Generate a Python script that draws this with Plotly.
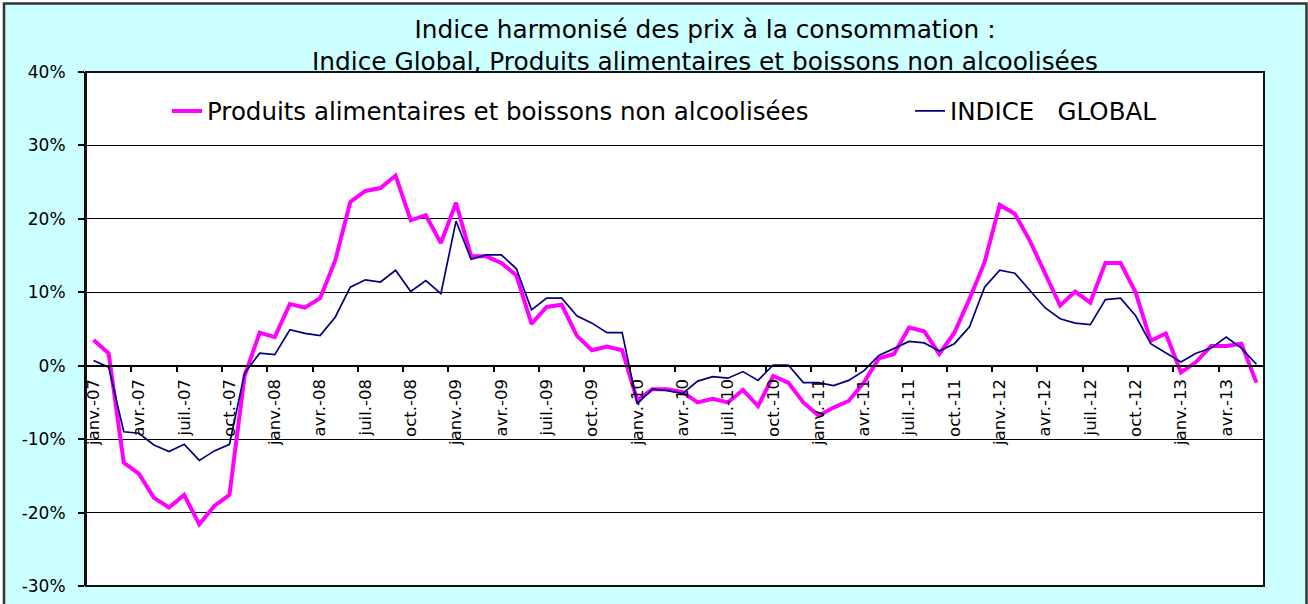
import plotly.graph_objects as go

# ---- data -------------------------------------------------------------
month_names = ['janv.', 'févr.', 'mars', 'avr.', 'mai', 'juin',
               'juil.', 'août', 'sept.', 'oct.', 'nov.', 'déc.']
years = ['07', '08', '09', '10', '11', '12', '13']
categories = [f"{m}-{y}" for y in years for m in month_names][:78]  # janv.-07 .. juin-13

food = [3.5, 1.7, -13.2, -14.7, -18.0, -19.3, -17.6, -21.6, -19.1, -17.6,
        -1.4, 4.5, 3.9, 8.4, 7.9, 9.2, 14.3, 22.3, 23.8, 24.2,
        25.9, 19.8, 20.5, 16.7, 22.2, 14.9, 14.9, 14.0, 12.3, 5.7,
        8.0, 8.3, 4.1, 2.1, 2.6, 2.1, -4.7, -3.2, -3.2, -3.6,
        -5.0, -4.5, -5.0, -3.3, -5.5, -1.4, -2.3, -5.0, -6.8, -5.7,
        -4.8, -2.3, 1.0, 1.6, 5.2, 4.7, 1.6, 4.5, 9.1, 14.1,
        21.9, 20.7, 17.0, 12.5, 8.2, 10.1, 8.6, 14.0, 14.0, 10.0,
        3.4, 4.4, -0.9, 0.5, 2.7, 2.7, 3.0, -2.3]

global_index = [0.7, -0.2, -9.0, -9.2, -10.8, -11.7, -10.7, -12.9, -11.6, -10.7,
                -1.0, 1.7, 1.5, 4.9, 4.4, 4.1, 6.6, 10.7, 11.7, 11.4,
                13.0, 10.1, 11.6, 9.8, 19.7, 14.5, 15.1, 15.1, 13.2, 7.6,
                9.2, 9.2, 6.8, 5.8, 4.5, 4.5, -5.2, -3.2, -3.4, -3.8,
                -2.1, -1.5, -1.7, -0.8, -2.0, 0.1, 0.1, -2.3, -2.3, -2.7,
                -2.0, -0.7, 1.4, 2.4, 3.3, 3.1, 2.0, 3.0, 5.3, 10.7,
                13.0, 12.6, 10.2, 7.9, 6.4, 5.8, 5.6, 9.0, 9.2, 6.8,
                3.0, 1.8, 0.5, 1.7, 2.4, 3.9, 2.4, 0.2]

y_ticks = [-30, -20, -10, 0, 10, 20, 30, 40]
y_tick_labels = ['-30%', '-20%', '-10%', '0%', '10%', '20%', '30%', '40%']

title_lines = ["Indice harmonisé des prix à la consommation :",
               "Indice Global, Produits alimentaires et boissons non alcoolisées"]
name_food = "Produits alimentaires et boissons non alcoolisées"
name_global = "INDICE\u00a0\u00a0\u00a0GLOBAL"

# ---- figure -----------------------------------------------------------
FONT = "DejaVu Sans"
W, H = 1308, 604
ML, MR, MT, MB = 86, 44, 72, 18
pw, ph = W - ML - MR, H - MT - MB

def px_x(p):
    return (p - ML) / pw

def px_y(p):
    return (H - MB - p) / ph

fig = go.Figure()
fig.add_trace(go.Scatter(x=categories, y=food, name=name_food, mode='lines',
                         legendwidth=698,
                         line=dict(color='#FF00FF', width=4)))
fig.add_trace(go.Scatter(x=categories, y=global_index, name=name_global, mode='lines',
                         line=dict(color='#000080', width=1.7)))

zero_pos = (0 - y_ticks[0]) / (y_ticks[-1] - y_ticks[0])

fig.update_layout(
    width=W, height=H,
    margin=dict(l=ML, r=MR, t=MT, b=MB, autoexpand=False),
    paper_bgcolor='white',
    plot_bgcolor='white',
    font=dict(family=FONT, color='black'),
    title=dict(text="<br>".join(title_lines), x=705 / W, xanchor='center',
               xref='container', yref='container', y=1 - 38 / H, yanchor='top',
               font=dict(size=24.8, family=FONT, color='black')),
    showlegend=True,
    legend=dict(orientation='h', x=px_x(167), xanchor='left', y=px_y(111), yanchor='middle',
                bgcolor='rgba(0,0,0,0)', borderwidth=0,
                font=dict(size=24.5, family=FONT, color='black')),
    xaxis=dict(type='category', categoryorder='array', categoryarray=categories,
               range=[-0.5, len(categories) - 0.5],
               anchor='free', position=zero_pos,
               showline=True, linecolor='black', linewidth=1.5,
               showgrid=False, zeroline=False,
               ticks='outside', ticklen=6, tickwidth=1.5, tickcolor='black',
               tickson='boundaries', dtick=3, tickangle=-90,
               ticklabelstandoff=6,
               tickfont=dict(size=16.5, family=FONT, color='black')),
    yaxis=dict(range=[y_ticks[0], y_ticks[-1]], tickmode='array',
               tickvals=y_ticks, ticktext=y_tick_labels,
               showline=True, linecolor='black', linewidth=2,
               showgrid=True, gridcolor='black', gridwidth=1, zeroline=False,
               ticks='outside', ticklen=6, tickcolor='black', tickwidth=1.5,
               ticklabelstandoff=9,
               tickfont=dict(size=17, family=FONT, color='black')),
    shapes=[
        dict(type='rect', xref='paper', yref='paper', layer='below',
             x0=px_x(4), x1=px_x(1306.5), y0=px_y(607), y1=px_y(3.5),
             fillcolor='#CCFFFF', line=dict(color='#333333', width=2.5)),
        dict(type='rect', xref='paper', yref='paper', layer='below',
             x0=0, x1=1, y0=0, y1=1, fillcolor='white', line=dict(width=0)),
        dict(type='rect', xref='paper', yref='paper', layer='above',
             x0=0, x1=1, y0=0, y1=1, line=dict(color='#111111', width=2)),
    ],
)

fig.write_html("out.html",
               config={'displayModeBar': False},
               post_script="document.body.style.margin='0';"
                           "document.body.style.overflow='hidden';")
